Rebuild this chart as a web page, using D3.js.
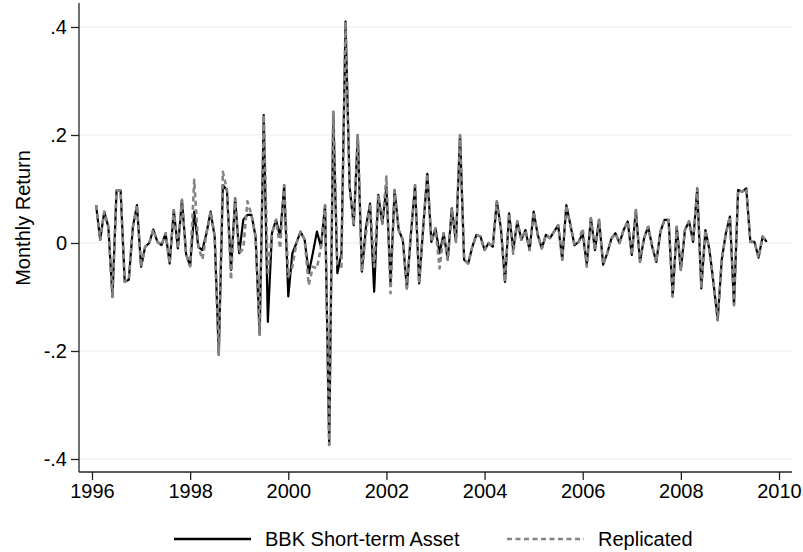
<!DOCTYPE html>
<html><head><meta charset="utf-8">
<script src="https://cdn.jsdelivr.net/npm/d3@7"></script>
<style>
body{margin:0;background:#fff}
svg{display:block}
text{font-family:Arial,"Liberation Sans",Helvetica,sans-serif;fill:#000}
</style>
</head><body>
<svg id="chart" width="803" height="552"></svg>
<script>
// monthly series, first observation Feb 1996
const startYear = 1996, startMonth = 2;
const bbk = [
  0.070, 0.006, 0.058, 0.030, -0.100, 0.097, 0.097, -0.072, -0.068, 0.030, 0.070,
  -0.044, -0.007, 0.000, 0.025, 0.002, -0.004, 0.018, -0.038, 0.061, -0.010, 0.080, -0.020,
  -0.043, 0.058, -0.007, -0.013, 0.018, 0.058, 0.012, -0.207, 0.107, 0.098, -0.050, 0.083,
  -0.019, 0.043, 0.052, 0.052, 0.012, -0.170, 0.237, -0.146, 0.018, 0.043, 0.012, 0.107,
  -0.099, -0.019, 0.000, 0.021, 0.006, -0.056, -0.019, 0.021, -0.007, 0.070, -0.374, 0.243,
  -0.056, -0.019, 0.410, 0.104, 0.033, 0.200, -0.053, 0.030, 0.073, -0.090, 0.089, 0.036,
  0.104, -0.075, 0.098, 0.024, 0.006, -0.084, 0.018, 0.107, -0.075, 0.030, 0.128, 0.002,
  0.027, -0.019, 0.018, -0.031, 0.064, 0.002, 0.200, -0.031, -0.038, -0.007, 0.015, 0.012,
  -0.013, 0.000, -0.007, 0.077, 0.027, -0.072, 0.055, -0.013, 0.040, 0.006, 0.024, -0.013,
  0.058, 0.015, -0.010, 0.015, 0.009, 0.021, 0.033, -0.031, 0.070, 0.033, -0.004, 0.002,
  0.018, -0.040, 0.046, -0.013, 0.043, -0.040, -0.019, 0.008, 0.018, 0.000, 0.024, 0.040,
  -0.022, 0.061, -0.035, 0.009, 0.030, -0.007, -0.035, 0.021, 0.043, 0.043, -0.099, 0.030,
  -0.050, 0.024, 0.040, 0.002, 0.101, -0.084, 0.024, -0.013, -0.075, -0.143, -0.031, 0.018,
  0.049, -0.115, 0.098, 0.095, 0.101, 0.002, 0.002, -0.027, 0.012, 0.002
];
const replicated = [
  0.070, 0.006, 0.058, 0.030, -0.100, 0.097, 0.097, -0.072, -0.068, 0.030, 0.070,
  -0.044, -0.007, 0.000, 0.025, 0.002, -0.004, 0.018, -0.038, 0.061, -0.010, 0.080, -0.020,
  -0.043, 0.117, -0.007, -0.030, 0.018, 0.058, 0.012, -0.207, 0.132, 0.098, -0.068, 0.083,
  -0.019, -0.010, 0.077, 0.052, 0.012, -0.170, 0.237, -0.060, 0.018, 0.043, -0.010, 0.107,
  -0.062, -0.044, 0.000, 0.021, 0.006, -0.078, -0.044, -0.047, -0.007, 0.070, -0.374, 0.243,
  -0.040, -0.044, 0.410, 0.104, 0.033, 0.200, -0.053, 0.018, 0.073, -0.044, 0.089, 0.036,
  0.123, -0.093, 0.098, 0.024, 0.006, -0.084, 0.018, 0.107, -0.075, 0.030, 0.128, 0.002,
  0.027, -0.047, 0.018, -0.031, 0.064, 0.002, 0.200, -0.031, -0.038, -0.007, 0.015, 0.012,
  -0.013, 0.000, -0.007, 0.077, 0.027, -0.072, 0.055, -0.020, 0.040, 0.006, 0.024, -0.013,
  0.058, 0.015, -0.010, 0.015, 0.009, 0.021, 0.033, -0.031, 0.070, 0.033, -0.004, 0.002,
  0.027, -0.044, 0.046, -0.013, 0.043, -0.040, -0.019, 0.008, 0.018, 0.000, 0.024, 0.040,
  -0.022, 0.061, -0.035, 0.009, 0.030, -0.007, -0.035, 0.021, 0.043, 0.043, -0.099, 0.030,
  -0.050, 0.024, 0.040, 0.002, 0.101, -0.084, 0.024, -0.013, -0.075, -0.143, -0.031, 0.018,
  0.049, -0.115, 0.098, 0.095, 0.101, 0.002, 0.002, -0.027, 0.012, 0.002
];
const xTicks = [1996, 1998, 2000, 2002, 2004, 2006, 2008, 2010];
const yTicks = [-0.4, -0.2, 0, 0.2, 0.4];
const yTickLabels = ["-.4", "-.2", "0", ".2", ".4"];
const seriesNames = ["BBK Short-term Asset", "Replicated"];
const yTitle = "Monthly Return";

(function () {
const svg = d3.select("#chart");
const pL = 79, pR = 792, pB = 472, pT = 3;
const x = d3.scaleLinear().domain([1996, 2010]).range([92, 779]);
const y = d3.scaleLinear().domain([-0.4, 0.4]).range([459, 27]);
const dateOf = i => startYear + (startMonth - 1 + i) / 12;

// gridlines
svg.append("g").selectAll("line").data(yTicks).join("line")
  .attr("x1", pL).attr("x2", pR)
  .attr("y1", d => y(d)).attr("y2", d => y(d))
  .attr("stroke", "#e8eff1").attr("stroke-width", 1.2);

// axes
const yAxis = d3.axisLeft(y).tickValues(yTicks)
  .tickFormat((d, i) => yTickLabels[i]).tickSize(8).tickPadding(4);
const gy = svg.append("g").attr("transform", `translate(${pL},0)`).call(yAxis);
gy.select(".domain").remove();
svg.append("line").attr("x1", pL).attr("x2", pL).attr("y1", pT).attr("y2", pB)
  .attr("stroke", "#222").attr("stroke-width", 1.3);

const xAxis = d3.axisBottom(x).tickValues(xTicks).tickFormat(d3.format("d"))
  .tickSize(8).tickPadding(4);
const gx = svg.append("g").attr("transform", `translate(0,${pB})`).call(xAxis);
gx.select(".domain").remove();
svg.append("line").attr("x1", pL).attr("x2", pR).attr("y1", pB).attr("y2", pB)
  .attr("stroke", "#222").attr("stroke-width", 1.3);

svg.selectAll(".tick line").attr("stroke", "#222").attr("stroke-width", 1.3);
svg.selectAll(".tick text").style("font-size", "20px").attr("fill", "#000")
  .style("font-family", "Arial, 'Liberation Sans', Helvetica, sans-serif");

// y title
svg.append("text").attr("transform", "translate(30,218) rotate(-90)")
  .attr("text-anchor", "middle").style("font-size", "20px").text(yTitle);

// lines
const line = d3.line().x((d, i) => x(dateOf(i))).y(d => y(d));
svg.append("path").datum(bbk).attr("d", line)
  .attr("fill", "none").attr("stroke", "#000").attr("stroke-width", 2.2)
  .attr("stroke-linejoin", "round");
svg.append("path").datum(replicated).attr("d", line)
  .attr("fill", "none").attr("stroke", "#858585").attr("stroke-width", 2.6)
  .attr("stroke-dasharray", "5,3.5").attr("stroke-linejoin", "round");

// legend
const lg = svg.append("g");
lg.append("line").attr("x1", 174).attr("x2", 251).attr("y1", 539).attr("y2", 539)
  .attr("stroke", "#000").attr("stroke-width", 2.6);
lg.append("text").attr("x", 265).attr("y", 546).style("font-size", "20px").text(seriesNames[0]);
lg.append("line").attr("x1", 507).attr("x2", 584).attr("y1", 539).attr("y2", 539)
  .attr("stroke", "#858585").attr("stroke-width", 2.6).attr("stroke-dasharray", "5,3.5");
lg.append("text").attr("x", 598).attr("y", 546).style("font-size", "20px").text(seriesNames[1]);
})();
</script>
</body></html>
